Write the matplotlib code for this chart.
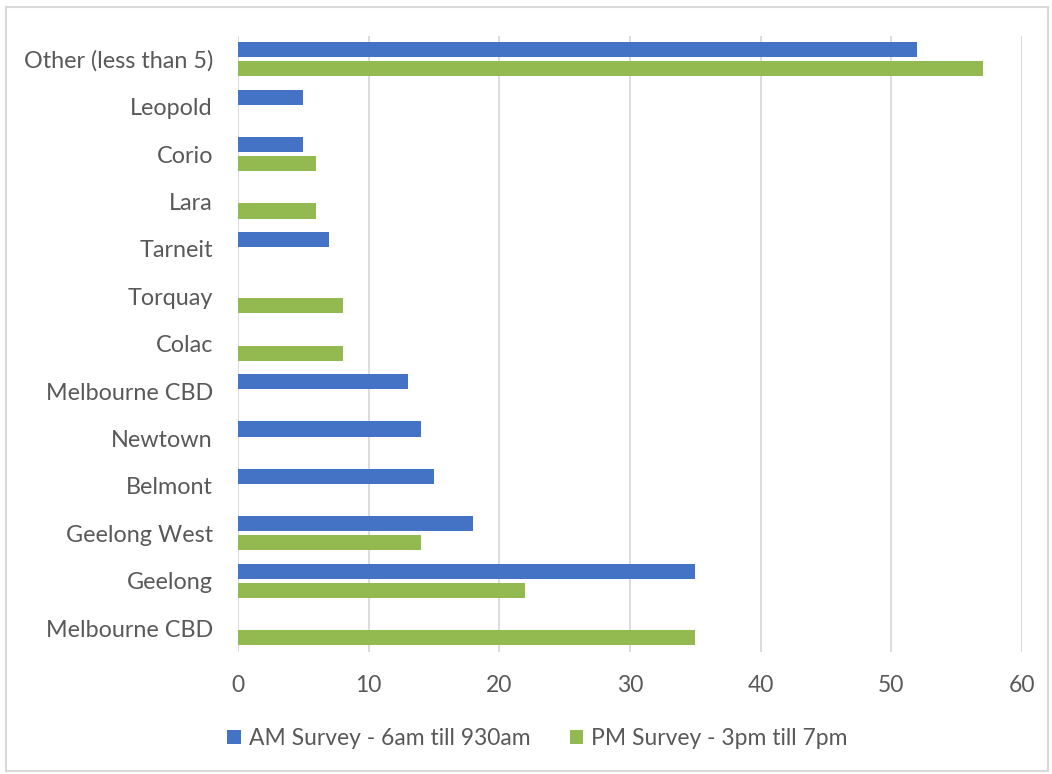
import numpy as np
import matplotlib
matplotlib.use("Agg")
import matplotlib.pyplot as plt
from matplotlib.patches import Rectangle

# categories listed bottom -> top
categories = ["Melbourne CBD", "Geelong", "Geelong West", "Belmont", "Newtown",
              "Melbourne CBD", "Colac", "Torquay", "Tarneit", "Lara", "Corio",
              "Leopold", "Other (less than 5)"]
am_values = [0, 35, 18, 15, 14, 13, 0, 0, 7, 0, 5, 5, 52]
pm_values = [35, 22, 14, 0, 0, 0, 8, 8, 0, 6, 6, 0, 57]
series_names = ["AM Survey - 6am till 930am", "PM Survey - 3pm till 7pm"]
xticks = [0, 10, 20, 30, 40, 50, 60]

blue = "#4472C4"
green = "#93B951"
grey_txt = "#595959"

plt.rcParams['font.family'] = ['Lato', 'DejaVu Sans']

fig = plt.figure(figsize=(10.52, 7.74), dpi=100)
ax = fig.add_axes([0.2262, 0.158, 0.7453, 0.796])

y = np.arange(len(categories))
h = 0.32
ax.barh(y + 0.2, am_values, height=h, color=blue, label=series_names[0], zorder=3)
ax.barh(y - 0.2, pm_values, height=h, color=green, label=series_names[1], zorder=3)

ax.set_ylim(-0.5, len(categories) - 0.5)
ax.set_xlim(0, 60)
ax.set_yticks(y)
ax.set_yticklabels(categories, fontsize=16.8, color=grey_txt)
ax.set_xticks(xticks)
ax.set_xticklabels([str(t) for t in xticks], fontsize=16.5, color=grey_txt)
ax.tick_params(length=0)
ax.tick_params(axis='x', pad=17)
ax.tick_params(axis='y', pad=18)
for s in ax.spines.values():
    s.set_visible(False)
ax.grid(axis='x', color="#d9d9d9", linewidth=1.3, zorder=0)
ax.set_axisbelow(True)

leg = fig.legend(loc="center", bbox_to_anchor=(0.511, 0.046), ncol=2, frameon=False,
                 fontsize=16.5, handlelength=0.6, handleheight=0.6, handletextpad=0.35,
                 columnspacing=1.7)
for t in leg.get_texts():
    t.set_color(grey_txt)

# light frame around the chart area
fig.patches.append(Rectangle((0.006, 0.004), 0.99, 0.987, transform=fig.transFigure,
                             fill=False, edgecolor="#d9d9d9", linewidth=1.5))

fig.savefig("out.png", dpi=100, facecolor="white")
